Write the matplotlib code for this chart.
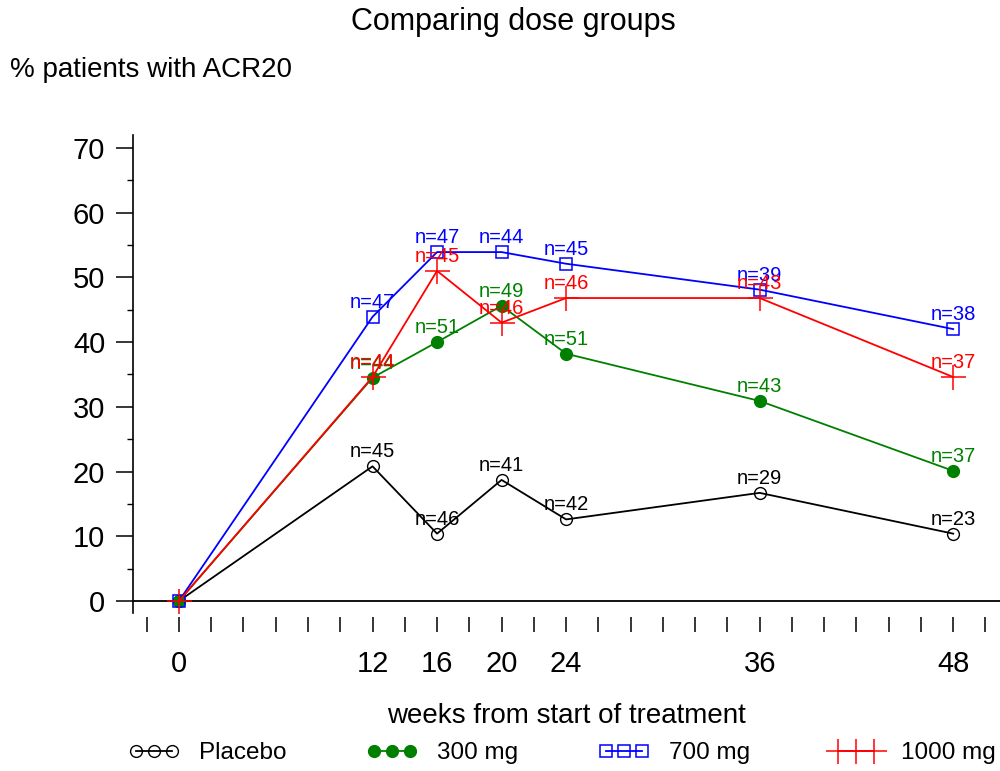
import matplotlib
matplotlib.use("Agg")
import matplotlib.pyplot as plt
from matplotlib.ticker import MultipleLocator

plt.rcParams['font.family'] = ['Liberation Sans', 'DejaVu Sans']

weeks = [0, 12, 16, 20, 24, 36, 48]
placebo = [0, 20.8, 10.4, 18.7, 12.6, 16.7, 10.4]
mg300 = [0, 34.5, 40.0, 45.6, 38.2, 30.9, 20.1]
mg700 = [0, 43.9, 53.9, 53.9, 52.1, 48.1, 42.0]
mg1000 = [0, 34.6, 51.0, 43.0, 46.8, 46.8, 34.6]
n_placebo = [None, 45, 46, 41, 42, 29, 23]
n_300 = [None, 44, 51, 49, 51, 43, 37]
n_700 = [None, 47, 47, 44, 45, 39, 38]
n_1000 = [None, 44, 45, 46, 46, 43, 37]
labels = ["Placebo", "300 mg", "700 mg", "1000 mg"]
tick_labels = {0: "0", 12: "12", 16: "16", 20: "20", 24: "24", 36: "36", 48: "48"}

fig = plt.figure(figsize=(10, 7.71), dpi=100)
ax = fig.add_axes([0.133, 0.205, 0.867, 0.62])

ax.axhline(0, color='black', lw=1.3, zorder=1)

series = [
    (placebo, n_placebo, 'black', dict(marker='o', mfc='none', mec='black', ms=8.5, mew=1.0)),
    (mg300, n_300, 'green', dict(marker='o', mfc='green', mec='green', ms=8.5)),
    (mg700, n_700, 'blue', dict(marker='s', mfc='none', mec='blue', ms=8.5, mew=1.1)),
    (mg1000, n_1000, 'red', dict(marker='+', mfc='none', mec='red', ms=18, mew=1.1)),
]
handles = []
for (vals, ns, col, mk), lab in zip(series, labels):
    h, = ax.plot(weeks, vals, color=col, lw=1.3, label=lab, zorder=3, **mk)
    handles.append(h)
    for w, v, n in zip(weeks, vals, ns):
        if n is None:
            continue
        ax.annotate(f"n={n}", (w, v), xytext=(0, 6.5), textcoords='offset points',
                    ha='center', va='baseline', color=col, fontsize=14.5, zorder=4)

ax.set_xlim(-2.85, 50.9)
ax.set_ylim(-1.85, 72)

for s in ['top', 'right', 'bottom']:
    ax.spines[s].set_visible(False)
ax.spines['left'].set_linewidth(1.2)
ax.spines['bottom'].set_position(('outward', 3))

xt = list(range(-2, 51, 2))
ax.set_xticks(xt)
ax.set_xticklabels([tick_labels.get(t, "") for t in xt])
ax.tick_params(axis='x', direction='out', length=11, width=1.1, pad=13, labelsize=21)

ax.yaxis.set_major_locator(MultipleLocator(10))
ax.yaxis.set_minor_locator(MultipleLocator(5))
ax.tick_params(axis='y', which='major', direction='out', length=12, width=1.1, labelsize=21, pad=8)
ax.tick_params(axis='y', which='minor', direction='out', length=4, width=1.0)

ax.set_xlabel("weeks from start of treatment", fontsize=20)
ax.xaxis.label.set_va('center')
ax.xaxis.set_label_coords(0.5, -0.2155)

fig.text(0.513, 0.972, "Comparing dose groups", ha='center', va='center', fontsize=22)
fig.text(0.01, 0.909, "% patients with ACR20", ha='left', va='center', fontsize=20)

fig.legend(handles=handles, labels=labels, loc='center', bbox_to_anchor=(0.562, 0.023),
           ncol=4, frameon=False, numpoints=3, fontsize=17.5, columnspacing=3.3,
           handlelength=2.1, handletextpad=0.8, borderpad=0.1, borderaxespad=0)

fig.savefig("out.png", dpi=100)
